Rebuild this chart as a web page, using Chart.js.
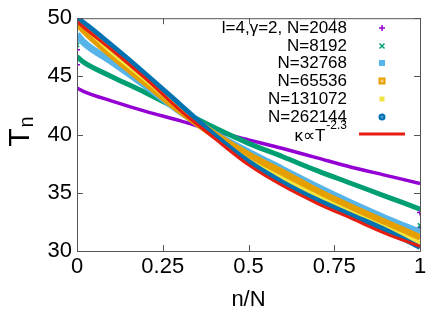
<!DOCTYPE html>
<html>
<head>
<meta charset="utf-8">
<script src="https://cdn.jsdelivr.net/npm/chart.js@4.4.1/dist/chart.umd.min.js"></script>
<style>
  body { margin: 0; background: #fff; }
  canvas { display: block; }
</style>
</head>
<body>
<canvas id="chart" width="436" height="309"></canvas>
<script>
// n/N sample positions
const nFrac = [0, 0.02, 0.1, 0.2, 0.3, 0.4, 0.5, 0.6, 0.7, 0.8, 0.9, 1];

// T_n for each system size
const t2048   = [44.0, 43.7, 42.9, 42.0, 41.2, 40.3, 39.55, 38.8, 38.0, 37.2, 36.5, 35.8];
const t8192   = [46.7, 46.2, 45.0, 43.6, 42.1, 40.6, 39.25, 38.1, 36.9, 35.8, 34.7, 33.6];
const t32768  = [48.6, 47.9, 46.3, 44.2, 42.0, 40.1, 38.5, 37.0, 35.5, 34.1, 32.8, 31.6];
const t65536  = [49.7, 49.0, 46.9, 44.5, 42.1, 40.0, 38.2, 36.7, 35.1, 33.7, 32.4, 31.1];
const t131072 = [49.8, 49.3, 47.1, 44.7, 42.2, 39.9, 37.8, 36.2, 34.7, 33.3, 32.0, 30.7];
const t262144 = [50.0, 49.6, 47.7, 45.2, 42.6, 40.0, 37.7, 35.9, 34.4, 33.1, 31.8, 30.3];
const tFit    = [49.7, 49.2, 47.3, 44.8, 42.1, 39.7, 37.4, 35.6, 34.1, 32.8, 31.5, 30.4];

// stray points at the ends of the small systems
const edge2048N = [0, 0, 1, 1];
const edge2048T = [46.0, 47.3, 33.3, 32.0];
const edge8192N = [0, 0, 1];
const edge8192T = [47.7, 48.4, 32.2];

const xTicks = [0, 0.25, 0.5, 0.75, 1];
const yTicks = [30, 35, 40, 45, 50];

const labels = ['l=4,\u03b3=2, N=2048', 'N=8192', 'N=32768', 'N=65536', 'N=131072', 'N=262144'];
const colors = ['#9400d3', '#009e73', '#56b4e9', '#e69f00', '#f0e442', '#0072b2'];
const fitColor = '#e51e10';

const pts = (xs, ys) => xs.map((x, i) => ({ x: x, y: ys[i] }));

const band = (ys, color, width, order) => ({
  data: pts(nFrac, ys),
  showLine: true,
  borderColor: color,
  backgroundColor: color,
  borderWidth: width,
  pointRadius: 0,
  tension: 0.3,
  cubicInterpolationMode: 'monotone',
  order: order
});

const strays = (xs, ys, color, style) => ({
  data: pts(xs, ys),
  showLine: false,
  pointStyle: style,
  pointRadius: 3,
  borderWidth: 1.5,
  borderColor: color,
  backgroundColor: color,
  order: 8
});

const FONT = '"Liberation Sans", Arial, sans-serif';

const frame = {
  id: 'frame',
  afterDraw(chart) {
    const ctx = chart.ctx;
    const a = chart.chartArea;
    const xs = chart.scales.x, ys = chart.scales.y;
    ctx.save();
    ctx.strokeStyle = '#555';
    ctx.lineWidth = 1;
    ctx.strokeRect(a.left + 0.5, a.top + 0.5, a.right - a.left, a.bottom - a.top);
    ctx.beginPath();
    xTicks.forEach(v => {
      const px = Math.round(xs.getPixelForValue(v)) + 0.5;
      ctx.moveTo(px, a.bottom); ctx.lineTo(px, a.bottom - 6);
      ctx.moveTo(px, a.top); ctx.lineTo(px, a.top + 6);
    });
    yTicks.forEach(v => {
      const py = Math.round(ys.getPixelForValue(v)) + 0.5;
      ctx.moveTo(a.left, py); ctx.lineTo(a.left + 6, py);
      ctx.moveTo(a.right, py); ctx.lineTo(a.right - 6, py);
    });
    ctx.stroke();

    // axis titles
    ctx.fillStyle = '#000';
    ctx.font = '22px ' + FONT;
    ctx.textAlign = 'center';
    ctx.textBaseline = 'alphabetic';
    ctx.fillText('n/N', (a.left + a.right) / 2, 306);

    ctx.save();
    ctx.translate(29, 132);
    ctx.rotate(-Math.PI / 2);
    ctx.textAlign = 'left';
    ctx.font = '30px ' + FONT;
    const tw = ctx.measureText('T').width;
    ctx.font = '20px ' + FONT;
    const nw = ctx.measureText('n').width;
    const x0 = -(tw + nw) / 2;
    ctx.font = '30px ' + FONT;
    ctx.fillText('T', x0, 0);
    ctx.font = '20px ' + FONT;
    ctx.fillText('n', x0 + tw + 1, 4);
    ctx.restore();

    // key
    const textRight = 347, markX = 382;
    const rowY = [28, 46, 63, 81, 99, 117, 134];
    ctx.font = '17px ' + FONT;
    ctx.textAlign = 'right';
    ctx.textBaseline = 'middle';
    labels.forEach((lab, i) => {
      ctx.fillStyle = '#000';
      ctx.fillText(lab, textRight, rowY[i]);
    });
    // fit label with superscript
    ctx.font = '12px ' + FONT;
    const sup = '-2.3';
    const sw = ctx.measureText(sup).width;
    ctx.fillText(sup, textRight, rowY[6] - 8);
    ctx.font = '17px ' + FONT;
    ctx.fillText('\u03ba\u221dT', textRight - sw - 1, rowY[6] + 2);

    const y = rowY;
    ctx.lineWidth = 1.5;
    // 2048: plus
    ctx.strokeStyle = colors[0];
    ctx.beginPath();
    ctx.moveTo(markX - 3, y[0]); ctx.lineTo(markX + 3, y[0]);
    ctx.moveTo(markX, y[0] - 3); ctx.lineTo(markX, y[0] + 3);
    ctx.stroke();
    // 8192: cross
    ctx.strokeStyle = colors[1];
    ctx.beginPath();
    ctx.moveTo(markX - 2.5, y[1] - 2.5); ctx.lineTo(markX + 2.5, y[1] + 2.5);
    ctx.moveTo(markX - 2.5, y[1] + 2.5); ctx.lineTo(markX + 2.5, y[1] - 2.5);
    ctx.stroke();
    // 32768: filled square
    ctx.fillStyle = colors[2];
    ctx.fillRect(markX - 3, y[2] - 3, 6, 6);
    // 65536: square with light centre
    ctx.fillStyle = colors[3];
    ctx.fillRect(markX - 3.5, y[3] - 3.5, 7, 7);
    ctx.fillStyle = '#f6d27a';
    ctx.fillRect(markX - 1.5, y[3] - 1.5, 3, 3);
    // 131072: small square
    ctx.fillStyle = colors[4];
    ctx.fillRect(markX - 2.5, y[4] - 2.5, 5, 5);
    // 262144: circle
    ctx.fillStyle = colors[5];
    ctx.beginPath();
    ctx.arc(markX, y[5], 3.5, 0, Math.PI * 2);
    ctx.fill();
    ctx.fillStyle = '#4a9bd0';
    ctx.beginPath();
    ctx.arc(markX, y[5], 1.5, 0, Math.PI * 2);
    ctx.fill();
    // fit line
    ctx.strokeStyle = fitColor;
    ctx.lineWidth = 3;
    ctx.beginPath();
    ctx.moveTo(359, y[6]); ctx.lineTo(405, y[6]);
    ctx.stroke();
    ctx.restore();
  }
};

new Chart(document.getElementById('chart'), {
  type: 'scatter',
  data: {
    datasets: [
      band(tFit, fitColor, 3, 0),
      band(t262144, colors[5], 5, 1),
      band(t131072, colors[4], 4, 2),
      band(t65536, colors[3], 8, 3),
      band(t32768, colors[2], 7, 4),
      band(t8192, colors[1], 5, 5),
      band(t2048, colors[0], 3.5, 6),
      strays(edge8192N, edge8192T, colors[1], 'crossRot'),
      strays(edge2048N, edge2048T, colors[0], 'cross')
    ]
  },
  options: {
    responsive: false,
    animation: false,
    devicePixelRatio: 1,
    layout: { padding: { top: 15, right: 16, left: 0, bottom: 0 } },
    plugins: { legend: { display: false }, tooltip: { enabled: false } },
    scales: {
      x: {
        type: 'linear', min: 0, max: 1,
        afterBuildTicks: s => { s.ticks = xTicks.map(v => ({ value: v })); },
        afterFit: s => { s.height = 58; },
        grid: { display: false, drawTicks: false },
        border: { display: false },
        ticks: { color: '#000', padding: 3, font: { size: 22, family: FONT }, maxRotation: 0,
                 callback: v => String(v) }
      },
      y: {
        type: 'linear', min: 30, max: 50,
        afterBuildTicks: s => { s.ticks = yTicks.map(v => ({ value: v })); },
        afterFit: s => { s.width = 77; },
        grid: { display: false, drawTicks: false },
        border: { display: false },
        ticks: { color: '#000', padding: 5, font: { size: 22, family: FONT } }
      }
    }
  },
  plugins: [frame]
});
</script>
</body>
</html>
